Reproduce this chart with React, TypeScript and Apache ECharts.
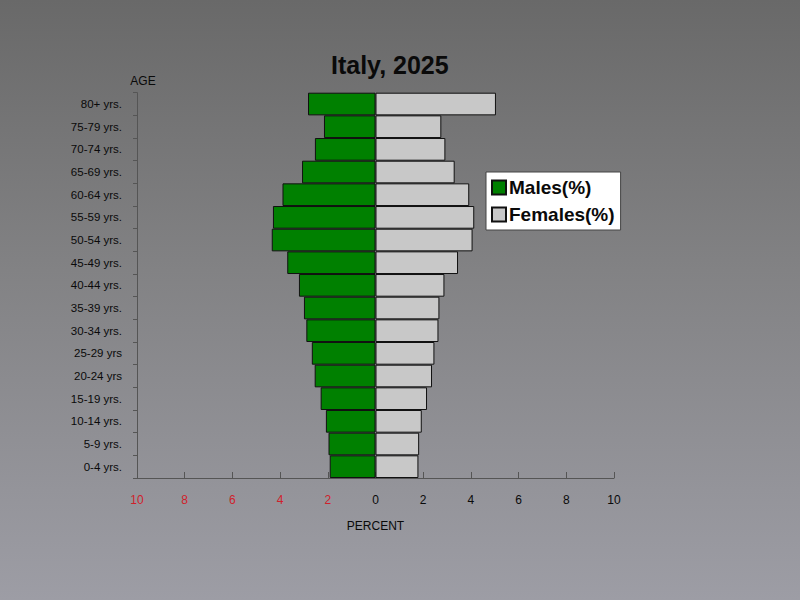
import React, { useEffect, useRef } from "react";
import * as echarts from "echarts";

const ageGroups = [
  "0-4 yrs.", "5-9 yrs.", "10-14 yrs.", "15-19 yrs.", "20-24 yrs", "25-29 yrs",
  "30-34 yrs.", "35-39 yrs.", "40-44 yrs.", "45-49 yrs.", "50-54 yrs.", "55-59 yrs.",
  "60-64 yrs.", "65-69 yrs.", "70-74 yrs.", "75-79 yrs.", "80+ yrs.",
];
const malesPct = [1.92, 1.97, 2.08, 2.3, 2.55, 2.67, 2.9, 3.0, 3.21, 3.7, 4.35, 4.3, 3.9, 3.08, 2.54, 2.16, 2.83];
const femalesPct = [1.8, 1.83, 1.94, 2.16, 2.37, 2.47, 2.64, 2.68, 2.89, 3.46, 4.07, 4.14, 3.93, 3.32, 2.93, 2.76, 5.05];

const FONT = "'Liberation Sans', Arial, sans-serif";

export default function App() {
  const ref = useRef<HTMLDivElement>(null);
  useEffect(() => {
    if (!ref.current) return;
    const chart = echarts.init(ref.current, null, { renderer: "svg" });
    chart.setOption({
      animation: false,
      backgroundColor: "transparent",
      textStyle: { fontFamily: FONT },
      title: {
        text: "Italy, 2025",
        left: 326,
        top: 47,
        textStyle: { fontSize: 25, fontWeight: "bold", color: "#0a0a0a", fontFamily: FONT },
      },
      legend: {
        orient: "vertical",
        left: 486,
        top: 172,
        padding: [6, 6, 6, 5],
        itemWidth: 14,
        itemHeight: 14,
        itemGap: 8,
        backgroundColor: "#ffffff",
        borderColor: "#444",
        borderWidth: 1,
        icon: "rect",
        textStyle: { fontSize: 19, fontWeight: "bold", color: "#0a0a0a", fontFamily: FONT, padding: [0, 0, 0, -2] },
        data: ["Males(%)", "Females(%)"],
      },
      grid: { left: 137, right: 186, top: 92.7, bottom: 122, containLabel: false },
      xAxis: {
        type: "value",
        min: -10,
        max: 10,
        interval: 2,
        name: "PERCENT",
        nameLocation: "middle",
        nameGap: 42,
        nameTextStyle: { fontSize: 12, color: "#0a0a0a", fontFamily: FONT },
        axisLine: { show: true, onZero: false, lineStyle: { color: "#555", width: 1 } },
        axisTick: { show: true, inside: true, length: 6, lineStyle: { color: "#555" } },
        splitLine: { show: false },
        axisLabel: {
          margin: 16,
          fontSize: 12,
          fontFamily: FONT,
          formatter: (v: number) => String(Math.abs(v)),
          color: (v: any) => (Number(v) < 0 ? "#d01f2b" : "#0a0a0a"),
        },
      },
      yAxis: {
        type: "category",
        data: ageGroups,
        name: "AGE",
        nameLocation: "end",
        nameGap: 6,
        nameTextStyle: { fontSize: 12, color: "#0a0a0a", fontFamily: FONT, padding: [0, 0, 0, 12] },
        axisLine: { show: true, onZero: false, lineStyle: { color: "#555", width: 1 } },
        axisTick: { show: true, length: 4, lineStyle: { color: "#555" } },
        axisLabel: { fontSize: 11.5, color: "#0a0a0a", margin: 15, fontFamily: FONT },
        splitLine: { show: false },
      },
      series: [
        {
          name: "Males(%)",
          type: "bar",
          stack: "pop",
          barCategoryGap: "0%",
          data: malesPct.map((v) => -v),
          itemStyle: { color: "#008000", borderColor: "#111", borderWidth: 1 },
        },
        {
          name: "Females(%)",
          type: "bar",
          stack: "pop",
          barCategoryGap: "0%",
          data: femalesPct,
          itemStyle: { color: "#c8c8c8", borderColor: "#111", borderWidth: 1 },
        },
      ],
    });
    return () => chart.dispose();
  }, []);
  return (
    <div
      style={{
        position: "fixed",
        left: 0,
        top: 0,
        width: 800,
        height: 600,
        background: "linear-gradient(180deg, #696969 0%, #828284 45%, #9d9da5 100%)",
      }}
    >
      <div ref={ref} style={{ width: 800, height: 600 }} />
    </div>
  );
}
